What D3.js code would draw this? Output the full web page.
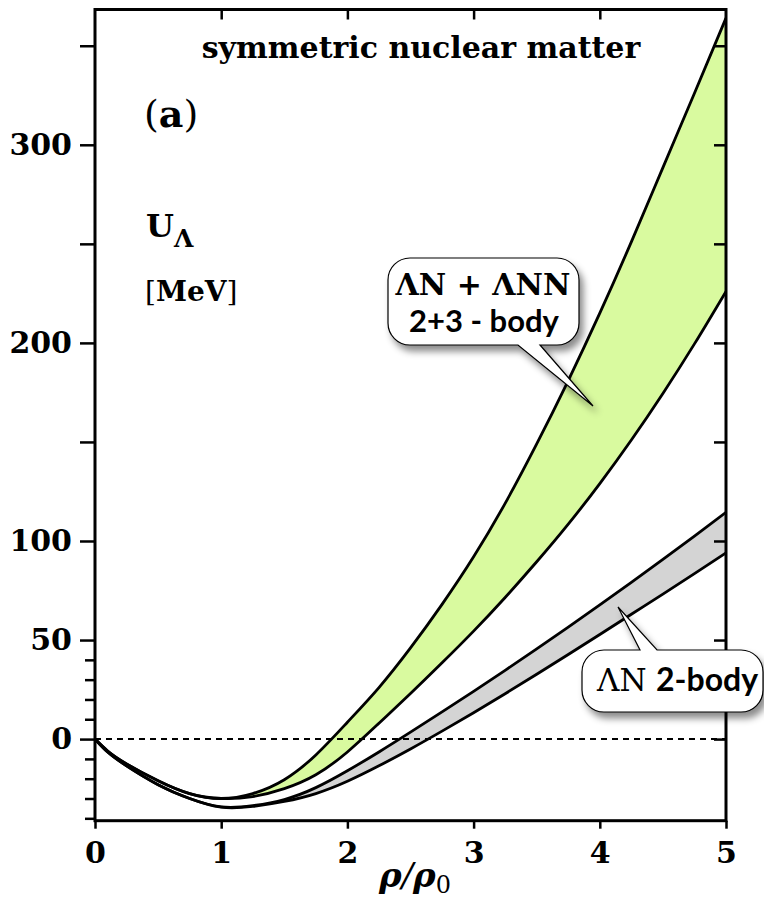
<!DOCTYPE html>
<html>
<head>
<meta charset="utf-8">
<script src="https://cdn.jsdelivr.net/npm/d3@7"></script>
<style>
  body { margin: 0; background: #fff; }
  svg { display: block; }
</style>
</head>
<body>
<div id="chart"></div>
<script>
// density in units of rho0
const rho = [0, 0.1, 0.25, 0.5, 0.75, 1.0, 1.25, 1.5, 1.75, 2.0, 2.25, 2.5, 2.75, 3.0,
  3.25, 3.5, 3.75, 4.0, 4.25, 4.5, 4.75, 5.0];
// LN + LNN (2+3 body) band, MeV
const threeBodyUpper = [0, -6, -12.5, -21, -27.5, -30, -27.5, -20.5, -8, 8.5, 26, 46, 68, 92,
  119, 149, 181, 215, 251, 288.5, 326, 364];
const threeBodyLower = [0, -6, -12.5, -21, -27.5, -30, -29, -25, -18, -6.5, 8, 23, 38.5, 54.5,
  71.5, 89.5, 108.5, 129, 151, 174.5, 199.5, 226];
// LN (2 body) band, MeV
const twoBodyUpper = [0, -6.5, -13.5, -23, -30, -34.2, -33.6, -30.5, -24.5, -16, -6.5, 3.5, 13.7, 24.1,
  34.7, 45.5, 56.5, 67.7, 79.1, 90.7, 102.5, 114.5];
const twoBodyLower = [0, -6.5, -13.5, -23, -30, -34.4, -34, -31.5, -27.5, -21.3, -13.5, -5, 4, 13.3,
  22.9, 32.7, 42.7, 52.8, 63, 73.2, 83.5, 94];

const xTicks = [0, 1, 2, 3, 4, 5];
const yMajor = [0, 50, 100, 150, 200, 250, 300, 350];
const yLabels = [0, 50, 100, 200, 300];
const yMinor = [-40, -30, -20, -10, 10, 20, 30, 40];

const W = 764, H = 904;
const mLeft = 95, mRight = 726, mTop = 9.5, mBottom = 820.7;

const svg = d3.select('#chart').append('svg').attr('width', W).attr('height', H);

const x = d3.scaleLinear().domain([0, 5]).range([mLeft, mRight]);
const y = d3.scaleLinear().domain([-41.2, 368.3]).range([mBottom, mTop]);

const defs = svg.append('defs');
defs.append('clipPath').attr('id', 'plot')
  .append('rect').attr('x', mLeft).attr('y', mTop).attr('width', mRight - mLeft).attr('height', mBottom - mTop);
const f = defs.append('filter').attr('id', 'shadow')
  .attr('x', '-20%').attr('y', '-20%').attr('width', '150%').attr('height', '160%');
f.append('feDropShadow').attr('dx', 4).attr('dy', 6).attr('stdDeviation', 3.5)
  .attr('flood-color', '#000').attr('flood-opacity', 0.45);

const serif = '"DejaVu Serif", serif';
const sans = 'Lato, "Open Sans", sans-serif';

const pts = (arr) => rho.map((r, i) => [r, arr[i]]);
const curve = d3.curveNatural;

const plot = svg.append('g').attr('clip-path', 'url(#plot)');

function band(up, lo, fill) {
  const data = rho.map((r, i) => ({ r, u: up[i], l: lo[i] }));
  const area = d3.area().curve(curve)
    .x((d) => x(d.r)).y0((d) => y(d.l)).y1((d) => y(d.u));
  plot.append('path').datum(data).attr('d', area).attr('fill', fill);
}

band(threeBodyUpper, threeBodyLower, '#d9fa9f');
band(twoBodyUpper, twoBodyLower, '#d4d4d4');

// zero line
plot.append('line')
  .attr('x1', x(0)).attr('x2', x(5)).attr('y1', y(0)).attr('y2', y(0))
  .attr('stroke', '#000').attr('stroke-width', 2).attr('stroke-dasharray', '6,5');

const line = d3.line().curve(curve).x((d) => x(d[0])).y((d) => y(d[1]));
[threeBodyUpper, threeBodyLower, twoBodyUpper, twoBodyLower].forEach((arr) => {
  plot.append('path').datum(pts(arr)).attr('d', line)
    .attr('fill', 'none').attr('stroke', '#000').attr('stroke-width', 2.8);
});

// axes
function styleAxis(g) {
  g.select('.domain').remove();
  g.selectAll('.tick line').attr('stroke', '#000').attr('stroke-width', 2.5);
  g.selectAll('.tick text').attr('fill', '#000')
    .style('font-family', serif).style('font-weight', 'bold').style('font-size', '30px');
}

svg.append('g').attr('transform', `translate(${mLeft},0)`)
  .call(d3.axisLeft(y).tickValues(yMajor).tickSize(15).tickPadding(8)
    .tickFormat((d) => (yLabels.includes(d) ? d : '')))
  .call(styleAxis);
svg.append('g').attr('transform', `translate(${mLeft},0)`)
  .call(d3.axisLeft(y).tickValues(yMinor).tickSize(10).tickFormat(''))
  .call(styleAxis);
svg.append('g').attr('transform', `translate(${mRight},0)`)
  .call(d3.axisLeft(y).tickValues(yMajor).tickSize(12).tickFormat(''))
  .call(styleAxis);
svg.append('g').attr('transform', `translate(0,${mTop})`)
  .call(d3.axisBottom(x).tickValues([1, 2, 3, 4]).tickSize(10).tickFormat(''))
  .call(styleAxis);
svg.append('g').attr('transform', `translate(0,${mBottom})`)
  .call(d3.axisBottom(x).tickValues(xTicks).tickSize(8).tickPadding(13).tickFormat(d3.format('d')))
  .call(styleAxis);

// frame
svg.append('rect').attr('x', mLeft).attr('y', mTop).attr('width', mRight - mLeft).attr('height', mBottom - mTop)
  .attr('fill', 'none').attr('stroke', '#000').attr('stroke-width', 3);

// axis title
const xt = svg.append('text').attr('x', 415).attr('y', 887).attr('text-anchor', 'middle')
  .style('font-family', serif).style('font-size', '34px');
xt.append('tspan').text('ρ').style('font-style', 'italic').style('font-weight', 'bold');
xt.append('tspan').text('/').style('font-style', 'italic');
xt.append('tspan').text('ρ').style('font-style', 'italic').style('font-weight', 'bold');
xt.append('tspan').text('0').attr('dy', 6).style('font-size', '24px');

// y title
const ut = svg.append('text').attr('x', 146).attr('y', 237)
  .style('font-family', serif).style('font-weight', 'bold').style('font-size', '32px');
ut.append('tspan').text('U');
ut.append('tspan').text('Λ').attr('dy', 10).style('font-size', '25px');
const mt = svg.append('text').attr('x', 145).attr('y', 301)
  .style('font-family', serif).style('font-size', '28px');
mt.append('tspan').text('[').style('font-weight', 'normal');
mt.append('tspan').text('MeV').style('font-weight', 'bold');
mt.append('tspan').text(']').style('font-weight', 'normal');

// title and panel label
svg.append('text').attr('x', 421).attr('y', 58).attr('text-anchor', 'middle')
  .style('font-family', serif).style('font-weight', 'bold').style('font-size', '30px')
  .text('symmetric nuclear matter');
const pa = svg.append('text').attr('x', 144).attr('y', 127)
  .style('font-family', serif).style('font-size', '38px');
pa.append('tspan').text('(');
pa.append('tspan').text('a').style('font-weight', 'bold');
pa.append('tspan').text(')');

// callouts
function callout(b, wedge) {
  const r = b.r;
  const p = d3.path();
  p.moveTo(b.x0 + r, b.y0);
  if (wedge.side === 'top') {
    p.lineTo(wedge.a, b.y0);
    p.lineTo(wedge.tx, wedge.ty);
    p.lineTo(wedge.b, b.y0);
  }
  p.lineTo(b.x1 - r, b.y0);
  p.arcTo(b.x1, b.y0, b.x1, b.y0 + r, r);
  p.lineTo(b.x1, b.y1 - r);
  p.arcTo(b.x1, b.y1, b.x1 - r, b.y1, r);
  if (wedge.side === 'bottom') {
    p.lineTo(wedge.b, b.y1);
    p.lineTo(wedge.tx, wedge.ty);
    p.lineTo(wedge.a, b.y1);
  }
  p.lineTo(b.x0 + r, b.y1);
  p.arcTo(b.x0, b.y1, b.x0, b.y1 - r, r);
  p.lineTo(b.x0, b.y0 + r);
  p.arcTo(b.x0, b.y0, b.x0 + r, b.y0, r);
  p.closePath();
  svg.append('path').attr('d', p.toString())
    .attr('fill', '#fff').attr('stroke', '#000').attr('stroke-width', 1.2)
    .attr('filter', 'url(#shadow)');
}

callout({ x0: 388, y0: 258, x1: 579, y1: 345, r: 22 },
  { side: 'bottom', a: 518, b: 540, tx: 593, ty: 406 });
svg.append('text').attr('x', 483).attr('y', 295).attr('text-anchor', 'middle')
  .style('font-family', serif).style('font-weight', 'bold').style('font-size', '30px')
  .text('ΛN + ΛNN');
svg.append('text').attr('x', 484).attr('y', 332).attr('text-anchor', 'middle')
  .style('font-family', sans).style('font-weight', 'bold').style('font-size', '31px')
  .text('2+3 - body');

callout({ x0: 582, y0: 650, x1: 763, y1: 712, r: 22 },
  { side: 'top', a: 640, b: 657, tx: 618, ty: 607 });
svg.append('text').attr('x', 597).attr('y', 691)
  .style('font-family', serif).style('font-size', '31px').text('ΛN');
svg.append('text').attr('x', 656).attr('y', 691)
  .style('font-family', sans).style('font-weight', 'bold').style('font-size', '32px').text('2-body');
</script>
</body>
</html>
